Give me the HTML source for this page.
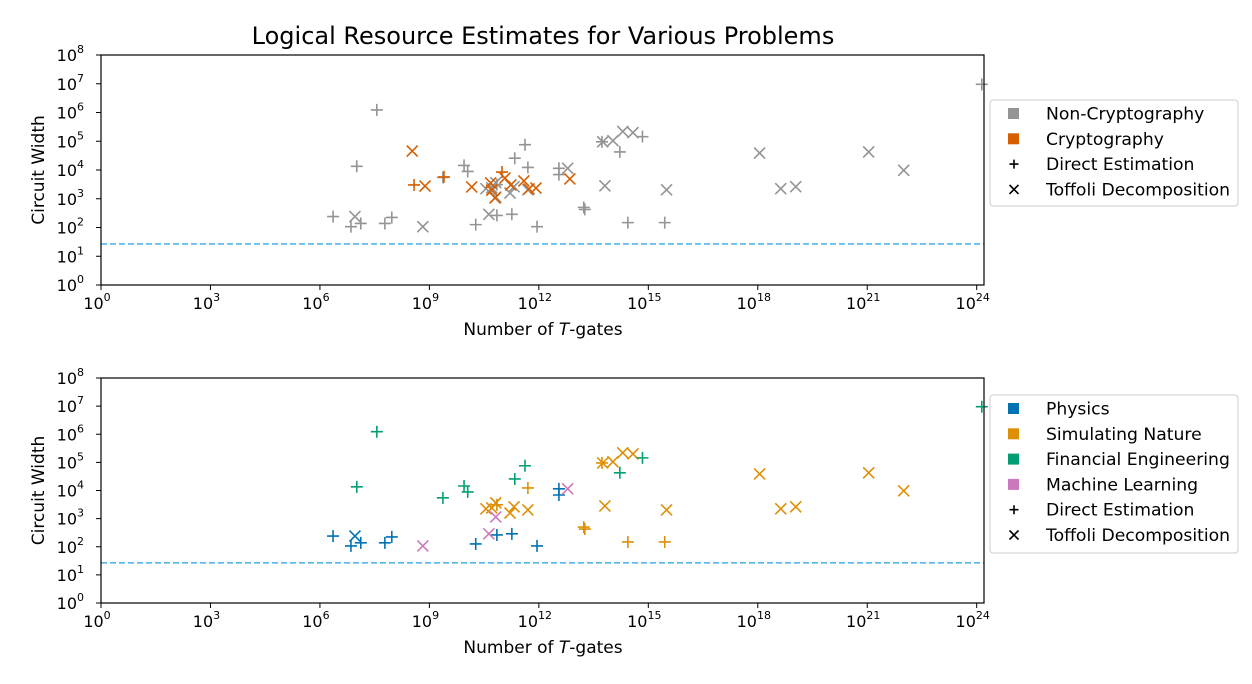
<!DOCTYPE html>
<html><head><meta charset="utf-8"><style>
body{margin:0;background:#fff;}
svg{display:block;font-family:"DejaVu Sans","Liberation Sans",sans-serif;}
</style></head><body>
<svg id="chart" width="1252" height="684"></svg>
<script>
// [log10 T-gates, log10 width, marker]
const physics=[[6.36,2.38,'+'],[6.96,2.38,'x'],[6.85,2.03,'+'],[7.12,2.14,'+'],[7.78,2.14,'+'],[7.97,2.35,'+'],[10.27,2.1,'+'],[10.85,2.42,'+'],[11.26,2.46,'+'],[11.95,2.03,'+'],[12.55,4.06,'+'],[12.55,3.84,'+']];
const finance=[[7.56,6.09,'+'],[7.01,4.13,'+'],[9.37,3.74,'+'],[9.95,4.16,'+'],[10.05,3.95,'+'],[11.34,4.41,'+'],[11.62,4.88,'+'],[14.22,4.63,'+'],[14.84,5.16,'+'],[24.14,6.98,'+']];
const ml=[[8.82,2.03,'x'],[10.63,2.46,'x'],[10.82,3.06,'x'],[12.79,4.06,'x']];
const nature=[[10.55,3.35,'x'],[10.82,3.56,'x'],[10.71,3.38,'x'],[10.85,3.49,'+'],[11.21,3.2,'x'],[11.32,3.42,'x'],[11.7,3.31,'x'],[11.7,4.09,'+'],[13.23,2.7,'+'],[13.26,2.63,'+'],[14.44,2.17,'+'],[13.81,3.45,'x'],[13.73,4.98,'+'],[13.75,4.98,'x'],[14.03,5.02,'x'],[14.3,5.34,'x'],[14.58,5.3,'x'],[15.5,3.31,'x'],[15.45,2.17,'+'],[18.05,4.59,'x'],[18.63,3.35,'x'],[19.04,3.42,'x'],[21.04,4.63,'x'],[22.0,3.99,'x']];
const crypto=[[8.53,4.66,'x'],[8.58,3.48,'+'],[8.88,3.44,'x'],[9.4,3.76,'+'],[10.16,3.41,'x'],[10.68,3.55,'x'],[10.71,3.3,'x'],[10.8,3.03,'x'],[10.99,3.93,'+'],[11.07,3.72,'x'],[11.23,3.48,'x'],[11.59,3.62,'x'],[11.73,3.34,'x'],[11.92,3.37,'x'],[12.85,3.69,'x']];
const xTicks=[0,3,6,9,12,15,18,21,24];
const yTicks=[0,1,2,3,4,5,6,7,8];
const threshold=1.43;

const NS='http://www.w3.org/2000/svg';
const svg=document.getElementById('chart');
function el(tag,attrs,parent){const e=document.createElementNS(NS,tag);for(const k in attrs)e.setAttribute(k,attrs[k]);(parent||svg).appendChild(e);return e;}
const X0=101,X1=984,XMAX=24.2;
function sx(v){return X0+(X1-X0)*v/XMAX;}

const t=el('text',{x:543,y:44,'font-size':24,'text-anchor':'middle',fill:'#000'});


t.textContent='Logical Resource Estimates for Various Problems';

function marker(g,px,py,m,col,sz){
  const s=sz||(m==='+'?6:5.5);
  const p=el('path',{d:m==='+'?`M${px-s},${py}H${px+s}M${px},${py-s}V${py+s}`:`M${px-s},${py-s}L${px+s},${py+s}M${px-s},${py+s}L${px+s},${py-s}`,stroke:col,'stroke-width':1.6,fill:'none'},g);
  
  
}
function panel(name,Y0,Y1,series,legend,lx,ly,lh){
  const g=el('g',{});
  
  
  const sy=v=>Y1-(Y1-Y0)*v/8;
  el('line',{x1:X0,x2:X1,y1:sy(threshold),y2:sy(threshold),stroke:'#56b4e9','stroke-width':1.6,'stroke-dasharray':'6,3'},g);
  series.forEach(s=>s.data.forEach(d=>marker(g,sx(d[0]),sy(d[1]),d[2],s.col)));
  el('rect',{x:X0,y:Y0,width:X1-X0,height:Y1-Y0,fill:'none',stroke:'#000','stroke-width':1.2},g);
  xTicks.forEach(v=>{const x=sx(v);el('line',{x1:x,x2:x,y1:Y1,y2:Y1+5,stroke:'#000'},g);
    const tx=el('text',{x:x-4,y:Y1+24,'font-size':16,'text-anchor':'middle'},g);tx.textContent='10';
    const sp=el('tspan',{dy:-8,'font-size':11},tx);sp.textContent=v;});
  yTicks.forEach(v=>{const y=sy(v);el('line',{x1:X0-5,x2:X0,y1:y,y2:y,stroke:'#000'},g);
    const tx=el('text',{x:X0-17,y:y+6,'font-size':16,'text-anchor':'end'},g);tx.textContent='10';
    const sp=el('tspan',{dy:-8,'font-size':11},tx);sp.textContent=v;});
  const xl=el('text',{x:543,y:Y1+50,'font-size':17,'text-anchor':'middle'},g);
  
  
  xl.innerHTML='Number of <tspan font-style="italic">T</tspan>-gates';
  const yl=el('text',{x:44,y:(Y0+Y1)/2,'font-size':17,'text-anchor':'middle',transform:`rotate(-90 44 ${(Y0+Y1)/2})`},g);
  
  
  yl.textContent='Circuit Width';
  const lg=el('g',{},g);
  
  
  el('rect',{x:lx,y:ly,width:248,height:lh,rx:3,fill:'#fff',stroke:'#ccc'},lg);
  legend.forEach((e,i)=>{const cy=ly+13.5+i*25.3;
    const eg=el('g',{},lg);
    
    
    if(e.m)marker(eg,lx+24,cy,e.m,'#000',4.5);else el('rect',{x:lx+18,y:cy-5.5,width:11,height:11,fill:e.col},eg);
    const tx=el('text',{x:lx+56,y:cy+6,'font-size':17.2},eg);tx.textContent=e.label;});
}
const gray='#949494';
panel('top-panel',55,285,[{data:physics.concat(finance,ml,nature),col:gray},{data:crypto,col:'#d55e00'}],
  [{col:gray,label:'Non-Cryptography'},{col:'#d55e00',label:'Cryptography'},{m:'+',label:'Direct Estimation'},{m:'x',label:'Toffoli Decomposition'}],990,100,106);
panel('bottom-panel',378,603,[{data:physics,col:'#0173b2'},{data:nature,col:'#de8f05'},{data:finance,col:'#029e73'},{data:ml,col:'#cc78bc'}],
  [{col:'#0173b2',label:'Physics'},{col:'#de8f05',label:'Simulating Nature'},{col:'#029e73',label:'Financial Engineering'},{col:'#cc78bc',label:'Machine Learning'},{m:'+',label:'Direct Estimation'},{m:'x',label:'Toffoli Decomposition'}],990,395,158);
</script>
</body></html>
